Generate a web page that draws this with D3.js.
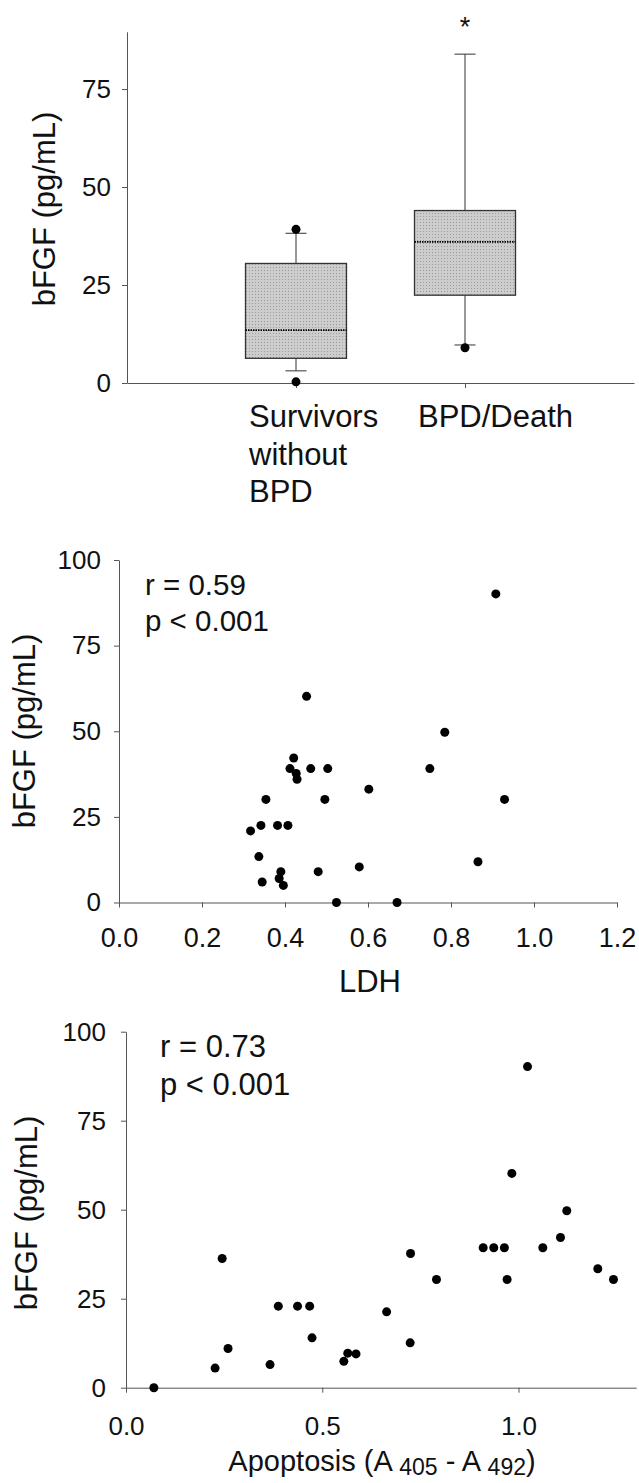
<!DOCTYPE html>
<html>
<head>
<meta charset="utf-8">
<script src="https://cdn.jsdelivr.net/npm/d3@7"></script>
<style>
  body { margin: 0; background: #fff; }
  svg text { font-family: 'Liberation Sans', Arial, sans-serif; fill: #111; }
</style>
</head>
<body>
<svg id="chart" width="639" height="1483"></svg>
<script>
// box plot: bFGF by outcome
const groups = ['Survivors without BPD', 'BPD/Death'];
const groupLines = [['Survivors', 'without', 'BPD'], ['BPD/Death']];
const lowWhisker = [3.1, 9.7];
const q1 = [6.3, 22.4];
const median = [13.5, 36.0];
const q3 = [30.5, 44.0];
const highWhisker = [38.2, 83.9];
const outliers = [[0.3, 39.2], [9.0]];
const boxTicks = [0, 25, 50, 75];

// scatter: bFGF vs LDH
const ldh = [0.908, 0.452, 0.785, 0.421, 0.412, 0.462, 0.503, 0.427, 0.429, 0.749,
  0.602, 0.354, 0.496, 0.929, 0.317, 0.342, 0.382, 0.407, 0.337, 0.865,
  0.579, 0.390, 0.480, 0.345, 0.386, 0.396, 0.524, 0.670];
const ldhBfgf = [90.1, 60.2, 49.7, 42.2, 39.1, 39.1, 39.1, 37.7, 36.0, 39.1,
  33.1, 30.1, 30.1, 30.1, 20.9, 22.5, 22.5, 22.5, 13.4, 11.9,
  10.4, 9.0, 9.0, 6.0, 7.0, 5.0, 0, 0];
const ldhTicks = [0, 0.2, 0.4, 0.6, 0.8, 1.0, 1.2];

// scatter: bFGF vs apoptosis
const apoptosis = [1.023, 0.983, 1.123, 1.107, 0.910, 0.937, 0.964, 1.062, 0.725, 0.245,
  1.202, 0.791, 0.971, 1.242, 0.388, 0.437, 0.468, 0.664, 0.474, 0.724,
  0.260, 0.565, 0.586, 0.555, 0.227, 0.367, 0.071];
const apoBfgf = [90.2, 60.2, 49.7, 42.2, 39.3, 39.3, 39.3, 39.3, 37.7, 36.3,
  33.4, 30.4, 30.4, 30.4, 22.9, 22.9, 22.9, 21.3, 14.0, 12.6,
  11.0, 9.7, 9.5, 7.4, 5.5, 6.5, 0];
const apoTicks = [0, 0.5, 1.0];
const bfgfTicks = [0, 25, 50, 75, 100];

const svg = d3.select('#chart');
const axisColor = '#555';

function styleAxis (g, size) {
  g.attr('font-size', null).attr('font-family', null);
  g.select('.domain').attr('stroke', axisColor);
  g.selectAll('.tick line').attr('stroke', axisColor);
  g.selectAll('.tick text').attr('font-size', size).attr('fill', '#111');
}

function yTitle (x, y) {
  svg.append('text')
    .attr('transform', `translate(${x},${y}) rotate(-90)`)
    .attr('text-anchor', 'middle')
    .attr('font-size', 31)
    .text('bFGF (pg/mL)');
}

// stippled fill for the boxes
const pat = svg.append('defs').append('pattern')
  .attr('id', 'stipple')
  .attr('width', 3).attr('height', 3)
  .attr('patternUnits', 'userSpaceOnUse');
pat.append('rect').attr('width', 3).attr('height', 3).attr('fill', '#cdcdcd');
pat.append('rect').attr('width', 1).attr('height', 1).attr('fill', '#9a9a9a');

// ---------- panel 1: box plot ----------
const xBox = d3.scalePoint().domain(groups).range([127, 634]).padding(1);
const yBox = d3.scaleLinear().domain([0, 89.6]).range([383, 31.8]);
const boxW = 101;
const capW = 21;

svg.append('g')
  .attr('transform', 'translate(127,0)')
  .call(d3.axisLeft(yBox).tickValues(boxTicks).tickSize(5).tickPadding(11).tickSizeOuter(0))
  .call(g => styleAxis(g, 26));

svg.append('g')
  .attr('transform', 'translate(0,383)')
  .call(d3.axisBottom(xBox).tickSize(5).tickFormat('').tickSizeOuter(0))
  .call(g => styleAxis(g, 26));

const box = svg.append('g').selectAll('g')
  .data(groups)
  .join('g');

box.append('line')
  .attr('x1', (d) => xBox(d)).attr('x2', (d) => xBox(d))
  .attr('y1', (d, i) => yBox(highWhisker[i])).attr('y2', (d, i) => yBox(q3[i]))
  .attr('stroke', '#333');
box.append('line')
  .attr('x1', (d) => xBox(d)).attr('x2', (d) => xBox(d))
  .attr('y1', (d, i) => yBox(lowWhisker[i])).attr('y2', (d, i) => yBox(q1[i]))
  .attr('stroke', '#333');
box.append('line')
  .attr('x1', (d) => xBox(d) - capW / 2).attr('x2', (d) => xBox(d) + capW / 2)
  .attr('y1', (d, i) => yBox(highWhisker[i])).attr('y2', (d, i) => yBox(highWhisker[i]))
  .attr('stroke', '#333');
box.append('line')
  .attr('x1', (d) => xBox(d) - capW / 2).attr('x2', (d) => xBox(d) + capW / 2)
  .attr('y1', (d, i) => yBox(lowWhisker[i])).attr('y2', (d, i) => yBox(lowWhisker[i]))
  .attr('stroke', '#333');
box.append('rect')
  .attr('x', (d) => xBox(d) - boxW / 2)
  .attr('y', (d, i) => yBox(q3[i]))
  .attr('width', boxW)
  .attr('height', (d, i) => yBox(q1[i]) - yBox(q3[i]))
  .attr('fill', 'url(#stipple)')
  .attr('stroke', '#333')
  .attr('stroke-width', 1.3);
box.append('line')
  .attr('x1', (d) => xBox(d) - boxW / 2).attr('x2', (d) => xBox(d) + boxW / 2)
  .attr('y1', (d, i) => yBox(median[i])).attr('y2', (d, i) => yBox(median[i]))
  .attr('stroke', '#000')
  .attr('stroke-width', 1.6)
  .attr('stroke-dasharray', '1.5,1');
box.selectAll('circle')
  .data((d, i) => outliers[i].map(v => ({ g: d, v: v })))
  .join('circle')
  .attr('cx', d => xBox(d.g))
  .attr('cy', d => yBox(d.v))
  .attr('r', 4.5)
  .attr('fill', '#000');

// significance mark
svg.append('text')
  .attr('x', xBox(groups[1]))
  .attr('y', yBox(highWhisker[1]) - 18)
  .attr('text-anchor', 'middle')
  .attr('font-size', 27)
  .text('*');

// category labels, left aligned under each tick
groups.forEach((g, i) => {
  const t = svg.append('text')
    .attr('x', xBox(g) - 47)
    .attr('y', 383 + 44)
    .attr('font-size', 31);
  groupLines[i].forEach((line, j) => {
    t.append('tspan')
      .attr('x', xBox(g) - 47)
      .attr('dy', j === 0 ? 0 : 37.5)
      .text(line);
  });
});

yTitle(55, 209);

// ---------- panel 2: LDH ----------
const xLdh = d3.scaleLinear().domain([0, 1.2]).range([119, 617]);
const yLdh = d3.scaleLinear().domain([0, 100]).range([902.5, 560]);

svg.append('g')
  .attr('transform', 'translate(119,0)')
  .call(d3.axisLeft(yLdh).tickValues(bfgfTicks).tickSize(5).tickPadding(13).tickSizeOuter(0))
  .call(g => styleAxis(g, 26));
svg.append('g')
  .attr('transform', 'translate(0,902.5)')
  .call(d3.axisBottom(xLdh).tickValues(ldhTicks).tickFormat(d3.format('.1f')).tickSize(5).tickPadding(20).tickSizeOuter(0))
  .call(g => styleAxis(g, 27));

svg.append('g').selectAll('circle')
  .data(ldh)
  .join('circle')
  .attr('cx', d => xLdh(d))
  .attr('cy', (d, i) => yLdh(ldhBfgf[i]))
  .attr('r', 4.5)
  .attr('fill', '#000');

svg.append('text').attr('x', 145).attr('y', 595).attr('font-size', 29.5).text('r = 0.59');
svg.append('text').attr('x', 145).attr('y', 631).attr('font-size', 29.5).text('p < 0.001');

svg.append('text')
  .attr('x', 370).attr('y', 992)
  .attr('text-anchor', 'middle')
  .attr('font-size', 31)
  .text('LDH');

yTitle(35, 731);

// ---------- panel 3: apoptosis ----------
const xApo = d3.scaleLinear().domain([0, 1.3]).range([126, 636.25]);
const yApo = d3.scaleLinear().domain([0, 100]).range([1387.7, 1031.7]);

svg.append('g')
  .attr('transform', 'translate(126,0)')
  .call(d3.axisLeft(yApo).tickValues(bfgfTicks).tickSize(5).tickPadding(15).tickSizeOuter(0))
  .call(g => styleAxis(g, 26));
svg.append('g')
  .attr('transform', 'translate(0,1387.7)')
  .call(d3.axisBottom(xApo).tickValues(apoTicks).tickFormat(d3.format('.1f')).tickSize(5).tickPadding(24).tickSizeOuter(0))
  .call(g => styleAxis(g, 26));

svg.append('g').selectAll('circle')
  .data(apoptosis)
  .join('circle')
  .attr('cx', d => xApo(d))
  .attr('cy', (d, i) => yApo(apoBfgf[i]))
  .attr('r', 4.5)
  .attr('fill', '#000');

svg.append('text').attr('x', 160).attr('y', 1057).attr('font-size', 31).text('r = 0.73');
svg.append('text').attr('x', 160).attr('y', 1095).attr('font-size', 31).text('p < 0.001');

const apoTitle = svg.append('text')
  .attr('x', 382).attr('y', 1471)
  .attr('text-anchor', 'middle')
  .attr('font-size', 29);
apoTitle.append('tspan').text('Apoptosis (A ');
apoTitle.append('tspan').attr('font-size', 23).attr('dy', 4).text('405');
apoTitle.append('tspan').attr('dy', -4).text(' - A ');
apoTitle.append('tspan').attr('font-size', 23).attr('dy', 4).text('492');
apoTitle.append('tspan').attr('dy', -4).text(')');

yTitle(37, 1213);
</script>
</body>
</html>
